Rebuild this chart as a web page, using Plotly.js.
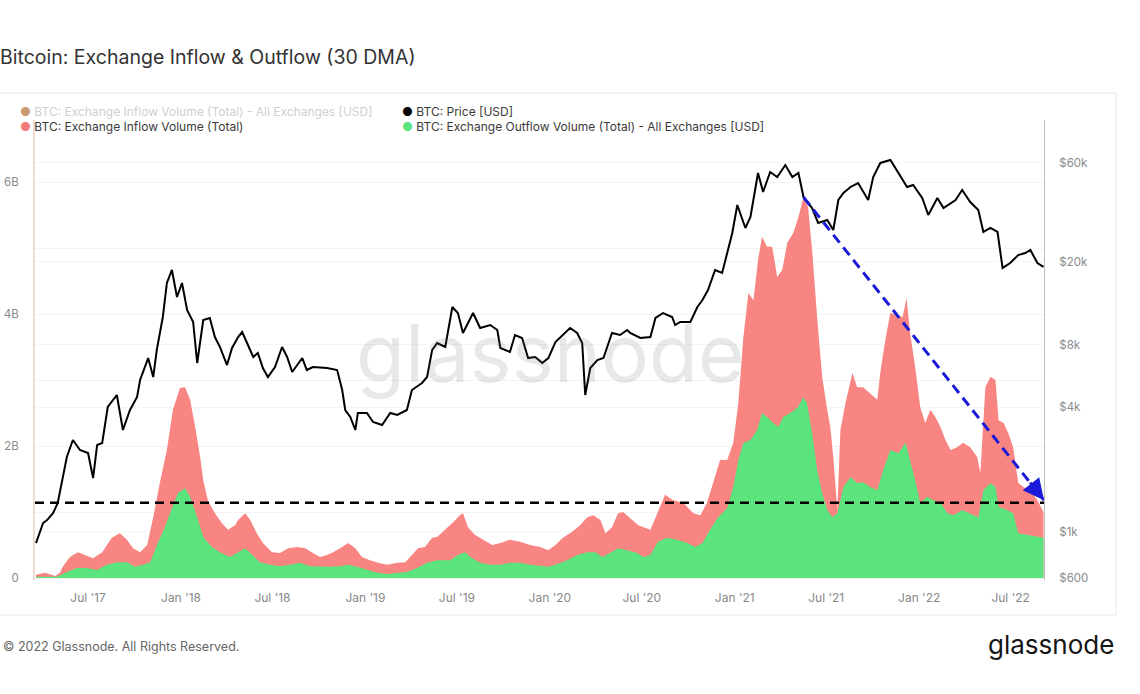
<!DOCTYPE html>
<html><head><meta charset="utf-8">
<script src="https://cdn.plot.ly/plotly-3.0.1.min.js"></script>
<style>html,body{margin:0;padding:0;background:#fff;overflow:hidden;} #chart{width:1140px;height:694px;}</style>
</head><body><div id="chart"></div>
<script>
// ---- Data ----
const priceDates = ['2017-03-20','2017-04-03','2017-04-11','2017-04-23','2017-05-02','2017-05-10','2017-05-20','2017-06-01','2017-06-15','2017-07-01',
'2017-07-11','2017-07-19','2017-07-29','2017-08-09','2017-08-27','2017-09-08','2017-09-22','2017-10-06','2017-10-12','2017-10-28',
'2017-11-07','2017-11-14','2017-11-26','2017-12-04','2017-12-14','2017-12-24','2018-01-03','2018-01-13','2018-01-25','2018-02-02',
'2018-02-14','2018-02-27','2018-03-09','2018-03-19','2018-04-02','2018-04-12','2018-04-24','2018-05-02','2018-05-12','2018-05-24',
'2018-06-02','2018-06-12','2018-06-22','2018-07-06','2018-07-20','2018-07-30','2018-08-09','2018-08-29','2018-09-07','2018-09-19',
'2018-10-17','2018-11-06','2018-11-16','2018-11-22','2018-12-02','2018-12-12','2018-12-17','2019-01-04','2019-01-16','2019-02-03',
'2019-02-19','2019-03-05','2019-03-24','2019-04-03','2019-04-23','2019-05-03','2019-05-13','2019-05-23','2019-06-08','2019-06-22',
'2019-07-03','2019-07-13','2019-08-02','2019-08-16','2019-09-05','2019-09-19','2019-09-25','2019-10-14','2019-10-24','2019-11-07',
'2019-11-19','2019-12-03','2019-12-17','2019-12-29','2020-01-12','2020-01-27','2020-02-10','2020-02-24','2020-03-05','2020-03-11',
'2020-03-21','2020-04-04','2020-04-16','2020-05-03','2020-05-19','2020-06-02','2020-06-08','2020-06-28','2020-07-18','2020-07-28',
'2020-08-12','2020-08-30','2020-09-05','2020-09-15','2020-10-05','2020-10-19','2020-10-29','2020-11-09','2020-11-23','2020-12-07',
'2020-12-17','2020-12-27','2021-01-06','2021-01-12','2021-01-22','2021-02-01','2021-02-11','2021-02-16','2021-02-26','2021-03-12',
'2021-03-26','2021-04-11','2021-04-25','2021-05-07','2021-05-17','2021-06-03','2021-06-15','2021-07-03','2021-07-15','2021-07-25',
'2021-08-04','2021-08-18','2021-09-02','2021-09-12','2021-09-22','2021-10-02','2021-10-16','2021-11-05','2021-11-21','2021-12-08',
'2021-12-20','2022-01-07','2022-01-19','2022-02-06','2022-02-18','2022-03-04','2022-03-14','2022-03-27','2022-04-12','2022-04-28',
'2022-05-08','2022-05-22','2022-06-05','2022-06-15','2022-06-30','2022-07-16','2022-07-30','2022-08-09','2022-08-23','2022-09-04'];
const priceUsd = [884,1104,1141,1234,1379,1721,2297,2773,2482,2401,
1819,2624,2683,4000,4569,3099,3869,4468,5398,6887,
5579,7527,10860,15834,18298,13558,15834,11734,10273,6517,
10503,10740,8696,7785,6373,7699,8696,9193,8138,6966,
7284,6166,5579,6234,7785,6966,5898,6887,6031,6234,
6166,6031,4831,3869,3580,3099,3742,3742,3387,3276,
3742,3660,3869,4831,5221,5579,7527,8138,7785,12134,
11350,9092,11350,9612,9936,9400,7699,7363,8892,8600,
6887,6966,6517,6887,8229,8892,9612,9092,8138,4569,
6166,6738,6887,9092,8892,9400,9092,8600,8696,10740,
11350,10860,9936,10273,10273,12134,13116,14652,18298,17697,
22091,27580,37630,34435,29150,32940,45950,53660,43460,54270,
51340,58650,51340,53660,41110,36390,30810,31860,28510,39780,
42980,45950,48030,43460,39780,51340,60000,61990,53660,45950,
46980,40660,33680,40660,36390,38470,39780,44440,38890,35600,
27890,29150,27890,18710,19770,21600,22091,22840,19770,18920];

const inflowDates = ['2017-03-20','2017-04-07','2017-04-27','2017-05-06','2017-05-12','2017-05-26','2017-06-11','2017-06-25','2017-07-11','2017-07-29',
'2017-08-17','2017-09-02','2017-09-16','2017-09-28','2017-10-12','2017-10-26','2017-11-07','2017-11-20','2017-12-04','2017-12-16',
'2017-12-30','2018-01-09','2018-01-19','2018-01-29','2018-02-08','2018-02-14','2018-02-23','2018-03-09','2018-03-23','2018-04-04',
'2018-04-18','2018-04-24','2018-05-08','2018-05-18','2018-05-31','2018-06-12','2018-06-30','2018-07-16','2018-08-01','2018-08-19',
'2018-09-04','2018-09-19','2018-10-03','2018-10-17','2018-10-29','2018-11-16','2018-11-28','2018-12-12','2018-12-25','2019-01-10',
'2019-01-26','2019-02-13','2019-03-05','2019-03-21','2019-04-03','2019-04-15','2019-04-29','2019-05-13','2019-05-23','2019-06-08',
'2019-06-24','2019-07-07','2019-07-13','2019-07-23','2019-08-06','2019-08-22','2019-09-09','2019-09-25','2019-10-14','2019-11-03',
'2019-11-23','2019-12-13','2019-12-29','2020-01-12','2020-01-27','2020-02-14','2020-03-01','2020-03-15','2020-03-27','2020-04-10',
'2020-04-20','2020-05-03','2020-05-15','2020-05-25','2020-06-08','2020-06-24','2020-07-18','2020-07-31','2020-08-16','2020-09-01',
'2020-09-21','2020-10-11','2020-10-25','2020-11-07','2020-11-19','2020-12-03','2020-12-17','2020-12-29','2021-01-08','2021-01-18',
'2021-01-28','2021-02-07','2021-02-16','2021-02-24','2021-03-06','2021-03-16','2021-03-26','2021-04-05','2021-04-15','2021-04-27',
'2021-05-07','2021-05-17','2021-05-26','2021-06-03','2021-06-13','2021-06-23','2021-07-03','2021-07-09','2021-07-15','2021-07-23',
'2021-07-29','2021-08-08','2021-08-22','2021-08-31','2021-09-12','2021-09-26','2021-10-10','2021-10-16','2021-10-26','2021-11-05',
'2021-11-19','2021-11-29','2021-12-07','2021-12-14','2021-12-24','2022-01-03','2022-01-13','2022-01-23','2022-02-02','2022-02-12',
'2022-02-22','2022-03-04','2022-03-17','2022-03-29','2022-04-12','2022-04-26','2022-05-02','2022-05-12','2022-05-22','2022-06-01',
'2022-06-07','2022-06-17','2022-06-26','2022-07-06','2022-07-16','2022-07-26','2022-08-09','2022-08-23','2022-09-04'];
const inflowBillions = [0.05,0.08,0.03,0.08,0.17,0.32,0.39,0.35,0.30,0.39,
0.61,0.68,0.58,0.45,0.39,0.50,0.92,1.44,1.94,2.55,
2.88,2.89,2.70,2.29,1.83,1.48,1.18,0.98,0.83,0.73,
0.80,0.88,0.98,0.88,0.68,0.53,0.39,0.38,0.45,0.47,
0.45,0.38,0.32,0.35,0.39,0.47,0.53,0.45,0.32,0.27,
0.23,0.20,0.23,0.24,0.35,0.45,0.47,0.61,0.62,0.73,
0.85,0.95,0.98,0.77,0.65,0.58,0.50,0.53,0.58,0.55,
0.50,0.47,0.42,0.50,0.61,0.70,0.80,0.92,0.95,0.88,
0.68,0.77,0.98,1.00,0.91,0.80,0.73,0.98,1.26,1.18,
1.14,0.98,0.95,1.14,1.44,1.79,1.79,2.05,2.65,3.65,
4.32,4.21,4.82,5.17,5.02,5.02,4.56,4.67,5.08,5.23,
5.47,5.77,5.62,4.97,3.95,3.05,2.55,2.29,1.83,1.03,
2.24,2.65,3.11,2.89,2.89,2.80,2.70,3.11,3.61,4.02,
3.98,3.95,4.24,3.71,3.20,2.59,2.35,2.55,2.44,2.29,
2.09,1.94,1.98,2.05,1.98,1.83,1.59,2.89,3.05,3.00,
2.39,2.35,2.20,1.98,1.44,1.38,1.33,1.18,1.00];

const outflowDates = ['2017-03-20','2017-04-30','2017-05-20','2017-06-09','2017-06-29','2017-07-19','2017-08-07','2017-08-27','2017-09-16','2017-10-02',
'2017-10-18','2017-11-01','2017-11-16','2017-11-30','2017-12-14','2017-12-26','2018-01-09','2018-01-19','2018-02-02','2018-02-14',
'2018-03-03','2018-03-19','2018-04-08','2018-04-24','2018-05-08','2018-05-22','2018-06-06','2018-06-26','2018-07-16','2018-08-05',
'2018-08-25','2018-09-13','2018-10-03','2018-10-23','2018-11-12','2018-11-28','2018-12-15','2019-01-04','2019-01-24','2019-02-13',
'2019-03-05','2019-03-24','2019-04-13','2019-05-03','2019-05-23','2019-06-18','2019-07-03','2019-07-17','2019-07-31','2019-08-16',
'2019-09-05','2019-09-25','2019-10-14','2019-11-03','2019-11-23','2019-12-13','2019-12-29','2020-01-15','2020-02-04','2020-02-24',
'2020-03-15','2020-03-31','2020-04-14','2020-04-29','2020-05-15','2020-06-02','2020-06-22','2020-07-04','2020-07-18','2020-08-02',
'2020-08-20','2020-09-09','2020-09-29','2020-10-15','2020-10-29','2020-11-13','2020-11-29','2020-12-17','2020-12-29','2021-01-08',
'2021-01-18','2021-02-01','2021-02-14','2021-02-24','2021-03-06','2021-03-18','2021-03-28','2021-04-07','2021-04-21','2021-05-05',
'2021-05-17','2021-05-24','2021-06-03','2021-06-13','2021-06-23','2021-07-03','2021-07-13','2021-07-23','2021-08-04','2021-08-18',
'2021-08-31','2021-09-12','2021-09-26','2021-10-10','2021-10-22','2021-11-05','2021-11-21','2021-12-05','2021-12-14','2021-12-24',
'2022-01-03','2022-01-17','2022-01-29','2022-02-12','2022-02-26','2022-03-10','2022-03-27','2022-04-12','2022-04-28','2022-05-08',
'2022-05-22','2022-06-01','2022-06-07','2022-06-24','2022-07-06','2022-07-16','2022-08-09','2022-09-04'];
const outflowBillions = [0.02,0.02,0.09,0.15,0.15,0.12,0.20,0.24,0.24,0.17,
0.20,0.24,0.53,0.77,1.06,1.29,1.36,1.23,0.92,0.62,
0.47,0.39,0.32,0.39,0.45,0.35,0.24,0.20,0.18,0.20,
0.23,0.18,0.17,0.17,0.18,0.20,0.17,0.12,0.08,0.06,
0.08,0.09,0.15,0.23,0.27,0.27,0.35,0.39,0.30,0.23,
0.20,0.20,0.23,0.23,0.20,0.18,0.17,0.21,0.27,0.35,
0.39,0.39,0.32,0.38,0.45,0.42,0.38,0.32,0.35,0.55,
0.61,0.58,0.53,0.47,0.53,0.73,0.92,1.06,1.38,1.79,
2.05,2.09,2.24,2.50,2.44,2.35,2.29,2.44,2.50,2.58,
2.74,2.65,2.20,1.64,1.29,1.03,0.92,0.98,1.38,1.53,
1.44,1.45,1.38,1.33,1.64,1.94,1.89,2.05,1.79,1.48,
1.14,1.23,1.18,1.14,0.98,0.95,1.03,0.98,0.92,1.33,
1.44,1.38,1.08,1.03,0.98,0.68,0.65,0.61];

const xTickDates = ['2017-07-01','2018-01-01','2018-07-01','2019-01-01','2019-07-01','2020-01-01','2020-07-01','2021-01-01','2021-07-01','2022-01-01','2022-07-01'];
const xTickLabels = ["Jul '17","Jan '18","Jul '18","Jan '19","Jul '19","Jan '20","Jul '20","Jan '21","Jul '21","Jan '22","Jul '22"];
const leftTickVals = [0, 2, 4, 6];
const leftTickLabels = ['0', '2B', '4B', '6B'];
const rightTickVals = [600, 1000, 4000, 8000, 20000, 60000];
const rightTickLabels = ['$600', '$1k', '$4k', '$8k', '$20k', '$60k'];
const referenceLevelBillions = 1.14;
const trendStartDate = '2021-05-17', trendStartBillions = 5.77;
const trendEndDate = '2022-09-05', trendEndBillions = 1.18;

// ---- Layout helpers (pixel -> paper) ----
const L = 35, R = 1044, T = 120, B = 580;
const px = x => (x - L) / (R - L);
const py = y => (B - y) / (B - T);
const FONT = 'Inter, "Noto Sans", Roboto, sans-serif';
const BLUE = '#1a1ad8';
const RED = '#f88581';
const GREEN = '#5be37d';

const traces = [
  {x: inflowDates, y: inflowBillions, type: 'scatter', mode: 'lines', name: 'BTC: Exchange Inflow Volume (Total)',
   line: {width: 0, color: RED}, fill: 'tozeroy', fillcolor: RED, yaxis: 'y', hoverinfo: 'skip'},
  {x: outflowDates, y: outflowBillions, type: 'scatter', mode: 'lines', name: 'BTC: Exchange Outflow Volume (Total) - All Exchanges [USD]',
   line: {width: 0, color: GREEN}, fill: 'tozeroy', fillcolor: GREEN, yaxis: 'y', hoverinfo: 'skip'},
  {x: priceDates, y: priceUsd, type: 'scatter', mode: 'lines', name: 'BTC: Price [USD]',
   line: {width: 2, color: '#000'}, yaxis: 'y2', hoverinfo: 'skip'}
];

function legendText(dot, label, labelColor) {
  return '<span style="color:' + dot + '">●</span> <span style="color:' + labelColor + '">' + label + '</span>';
}

const layout = {
  width: 1140, height: 694,
  paper_bgcolor: '#fff', plot_bgcolor: 'rgba(0,0,0,0)',
  margin: {l: L, r: 1140 - R, t: T, b: 694 - B, pad: 0},
  showlegend: false,
  font: {family: FONT, color: '#888', size: 11.5},
  title: {text: 'Bitcoin: Exchange Inflow &amp; Outflow (30 DMA)', x: 0, xref: 'container', xanchor: 'left',
          y: 1 - 57 / 694, yref: 'container', yanchor: 'middle', font: {family: FONT, size: 19.5, color: '#333'}},
  xaxis: {type: 'date', range: ['2017-03-18', '2022-09-05'], tickmode: 'array', tickvals: xTickDates, ticktext: xTickLabels,
          showgrid: false, zeroline: false, showline: false, ticks: '', ticklabelstandoff: 9,
          tickfont: {family: FONT, size: 12, color: '#888'}},
  yaxis: {range: [-0.03, 6.94], tickmode: 'array', tickvals: leftTickVals, ticktext: leftTickLabels,
          showgrid: true, gridcolor: '#f3f3f3', gridwidth: 1, zeroline: false,
          minor: {dtick: 1, showgrid: true, gridcolor: '#f3f3f3'},
          showline: true, linecolor: '#f1dcd5', linewidth: 2, ticks: '', ticklabelstandoff: 12,
          tickfont: {family: FONT, size: 11.5, color: '#8a8a8a'}},
  yaxis2: {type: 'log', overlaying: 'y', side: 'right', range: [2.7684, 4.9851], tickmode: 'array',
           tickvals: rightTickVals, ticktext: rightTickLabels, showgrid: true, gridcolor: '#f5f5f5', zeroline: false,
           showline: true, linecolor: '#bdbdbd', linewidth: 1, ticks: '', ticklabelstandoff: 12,
           tickfont: {family: FONT, size: 11.5, color: '#8a8a8a'}},
  shapes: [
    {type: 'rect', xref: 'paper', yref: 'paper', x0: px(-10), x1: px(1116), y0: py(615), y1: py(93),
     line: {color: '#e8e8e8', width: 1}, fillcolor: 'rgba(0,0,0,0)', layer: 'below'},
    {type: 'line', xref: 'paper', yref: 'y', x0: 0, x1: 1, y0: referenceLevelBillions, y1: referenceLevelBillions,
     line: {color: '#000', width: 2.5, dash: '9px,6px'}, layer: 'above'},
    {type: 'line', xref: 'x', yref: 'y', x0: trendStartDate, y0: trendStartBillions, x1: trendEndDate, y1: trendEndBillions,
     line: {color: BLUE, width: 3, dash: '10px,6px'}, layer: 'above'}
  ],
  annotations: [
    {text: 'glassnode', xref: 'paper', yref: 'paper', x: px(550), y: py(352), xanchor: 'center', yanchor: 'middle',
     showarrow: false, font: {family: FONT, size: 80, color: 'rgba(110,110,110,0.16)'}},
    {text: '', xref: 'x', yref: 'y', x: trendEndDate, y: trendEndBillions, ax: -15, ay: -19, axref: 'pixel', ayref: 'pixel',
     showarrow: true, arrowhead: 2, arrowsize: 1.4, arrowwidth: 3, arrowcolor: BLUE, standoff: 0},
    {text: legendText('#c99a6e', 'BTC: Exchange Inflow Volume (Total) - All Exchanges [USD]', '#cfcfcf'),
     xref: 'paper', yref: 'paper', x: px(18), y: py(111), xanchor: 'left', yanchor: 'middle', showarrow: false,
     font: {family: FONT, size: 12, color: '#444'}},
    {text: legendText('#f47b7b', 'BTC: Exchange Inflow Volume (Total)', '#3a3a3a'),
     xref: 'paper', yref: 'paper', x: px(18), y: py(126), xanchor: 'left', yanchor: 'middle', showarrow: false,
     font: {family: FONT, size: 12, color: '#444'}},
    {text: legendText('#000', 'BTC: Price [USD]', '#3a3a3a'),
     xref: 'paper', yref: 'paper', x: px(400), y: py(111), xanchor: 'left', yanchor: 'middle', showarrow: false,
     font: {family: FONT, size: 12, color: '#444'}},
    {text: legendText(GREEN, 'BTC: Exchange Outflow Volume (Total) - All Exchanges [USD]', '#3a3a3a'),
     xref: 'paper', yref: 'paper', x: px(400), y: py(126), xanchor: 'left', yanchor: 'middle', showarrow: false,
     font: {family: FONT, size: 12, color: '#444'}},
    {text: '© 2022 Glassnode. All Rights Reserved.', xref: 'paper', yref: 'paper', x: px(1), y: py(646),
     xanchor: 'left', yanchor: 'middle', showarrow: false, font: {family: FONT, size: 12.5, color: '#666'}},
    {text: 'glassnode', xref: 'paper', yref: 'paper', x: px(1116), y: py(644),
     xanchor: 'right', yanchor: 'middle', showarrow: false, font: {family: FONT, size: 26, color: '#151515'}}
  ]
};

Plotly.newPlot('chart', traces, layout, {staticPlot: true, displayModeBar: false});
</script>
</body></html>
